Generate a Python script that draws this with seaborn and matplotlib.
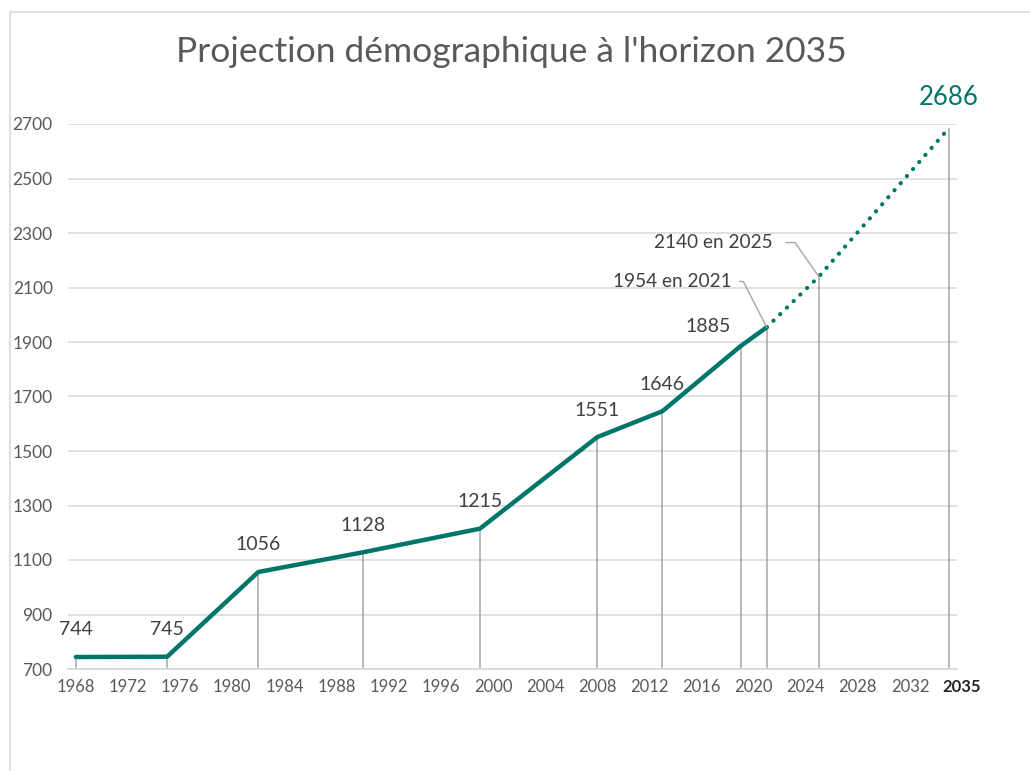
import seaborn as sns
import matplotlib.pyplot as plt
import matplotlib.transforms as mtransforms
from matplotlib.lines import Line2D
import pandas as pd

# observed population (census years) and projection
years_obs = [1968, 1975, 1982, 1990, 1999, 2008, 2013, 2019, 2021]
pop_obs = [744, 745, 1056, 1128, 1215, 1551, 1646, 1885, 1954]
years_proj = [2021, 2025, 2035]
pop_proj = [1954, 2140, 2686]

xtick_years = list(range(1968, 2033, 4))
ytick_vals = list(range(700, 2701, 200))

teal = '#00766A'
grey_txt = '#595959'
dark_txt = '#404040'

sns.set_theme(style='white')
plt.rcParams['font.family'] = ['Lato', 'DejaVu Sans']

fig = plt.figure(figsize=(10.3, 7.71), dpi=100)
ax = fig.add_axes([68 / 1030, 1 - 669 / 771, (957 - 68) / 1030, (669 - 124) / 771])

obs = pd.DataFrame({'year': years_obs, 'pop': pop_obs})
proj = pd.DataFrame({'year': years_proj, 'pop': pop_proj})

# drop lines from each point to the axis
all_years = years_obs + years_proj[1:]
all_pop = pop_obs + pop_proj[1:]
ax.vlines(all_years, 700, all_pop, color='#A6A6A6', lw=1.1, zorder=1)

sns.lineplot(data=obs, x='year', y='pop', ax=ax, color=teal, lw=3.2,
             solid_capstyle='round', zorder=3)
sns.lineplot(data=proj, x='year', y='pop', ax=ax, color=teal, lw=3.0,
             linestyle=(0, (0.05, 2.2)), dash_capstyle='round', zorder=3)

ax.set_xlim(1967.4, 2035.6)
ax.set_ylim(700, 2700)
ax.set_xlabel('')
ax.set_ylabel('')

ax.set_yticks(ytick_vals)
ax.set_xticks(xtick_years + [2035])
ax.set_xticklabels([str(y) for y in xtick_years] + ['2035'])
ax.tick_params(axis='y', length=0, pad=11, labelsize=12.5, labelcolor=grey_txt)
ax.tick_params(axis='x', length=0, pad=7, labelsize=12, labelcolor=grey_txt)
last = ax.get_xticklabels()[-1]
last.set_fontweight('bold')
last.set_color('#262626')
last.set_transform(last.get_transform() + mtransforms.ScaledTranslation(12 / 100, 0, fig.dpi_scale_trans))

ax.grid(axis='y', color='#D9D9D9', lw=1.1)
for s in ['top', 'right', 'left']:
    ax.spines[s].set_visible(False)
ax.spines['bottom'].set_color('#D9D9D9')
ax.spines['bottom'].set_linewidth(1.3)

# data labels
for yr, val in zip(years_obs[:-2], pop_obs[:-2]):
    ax.annotate(str(val), (yr, val), xytext=(0, 19.5), textcoords='offset points',
                ha='center', va='center', fontsize=14, color=dark_txt)
ax.annotate(str(pop_obs[-2]), (years_obs[-2], pop_obs[-2]), xytext=(-7, 14),
            textcoords='offset points', ha='right', va='center', fontsize=14, color=dark_txt)

ax.annotate(f'{pop_obs[-1]} en {years_obs[-1]}', (years_obs[-1], pop_obs[-1]),
            xytext=(-25, 33), textcoords='offset points', ha='right', va='center',
            fontsize=13.7, color=dark_txt,
            arrowprops=dict(arrowstyle='-', color='#A6A6A6', lw=1,
                            connectionstyle='angle,angleA=0,angleB=-63,rad=0',
                            relpos=(1, 0.5), shrinkA=3, shrinkB=0))
ax.annotate(f'{pop_proj[1]} en {years_proj[1]}', (years_proj[1], pop_proj[1]),
            xytext=(-33, 24.5), textcoords='offset points', ha='right', va='center',
            fontsize=13.7, color=dark_txt,
            arrowprops=dict(arrowstyle='-', color='#A6A6A6', lw=1,
                            connectionstyle='angle,angleA=0,angleB=-55,rad=0',
                            relpos=(1, 0.5), shrinkA=7, shrinkB=0))
ax.annotate(str(pop_proj[-1]), (years_proj[-1], pop_proj[-1]), xytext=(0, 22),
            textcoords='offset points', ha='center', va='center', fontsize=18.5, color=teal,
            annotation_clip=False)

fig.text(511 / 1030, 1 - 52 / 771, "Projection démographique à l'horizon 2035",
         ha='center', va='center', fontsize=25.5, color=grey_txt)

# chart frame
fig.add_artist(Line2D([10 / 1030, 10 / 1030, 1], [0, 1 - 12 / 771, 1 - 12 / 771],
                      transform=fig.transFigure, color='#D9D9D9', lw=1.2))

fig.savefig('out.png', dpi=100)
